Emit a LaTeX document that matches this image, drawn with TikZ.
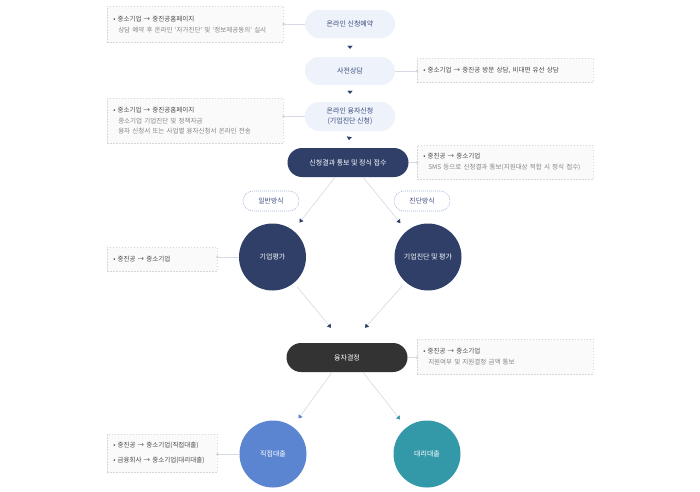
\documentclass[tikz,border=0pt]{standalone}
\usepackage{fontspec}
\setmainfont{Noto Sans CJK KR}
\usetikzlibrary{arrows.meta}

\definecolor{pillbg}{HTML}{EEF2FA}
\definecolor{pilltx}{HTML}{3A4C7E}
\definecolor{navy}{HTML}{2F3F68}
\definecolor{darkg}{HTML}{333333}
\definecolor{blueone}{HTML}{5B84D1}
\definecolor{tealone}{HTML}{3399A8}
\definecolor{linec}{HTML}{D5DAE3}
\definecolor{boxbd}{HTML}{D6D6D6}
\definecolor{boxbg}{HTML}{FAFAFA}
\definecolor{txone}{HTML}{4A4A4A}
\definecolor{txtwo}{HTML}{858585}
\definecolor{methbd}{HTML}{9FB3D9}

\begin{document}
\begin{tikzpicture}[x=1pt,y=-1pt,
  lightpill/.style={fill=pillbg, text=pilltx, rounded corners=14pt, minimum width=90pt, minimum height=28pt, inner sep=0pt, align=center, font=\fontsize{7pt}{10pt}\selectfont},
  darkpill/.style={rounded corners=14.5pt, minimum width=121pt, minimum height=29pt, inner sep=0pt, text=white, font=\fontsize{7pt}{10pt}\selectfont},
  methpill/.style={draw=methbd, line width=0.6pt, dash pattern=on 1pt off 1pt, fill=white, rounded corners=10pt, minimum width=56pt, minimum height=20pt, inner sep=0pt, text=pilltx, font=\fontsize{6.8pt}{8pt}\selectfont},
  circnode/.style={circle, minimum size=67pt, inner sep=0pt, text=white, font=\fontsize{7pt}{8pt}\selectfont},
  infobox/.style={draw=boxbd, line width=0.5pt, dash pattern=on 1.5pt off 1.5pt, fill=boxbg, anchor=north west, align=left, inner xsep=6pt, inner ysep=0pt, text=txtwo, font=\fontsize{6.5pt}{11pt}\selectfont},
  conn/.style={draw=linec, line width=0.6pt},
  tipnavy/.style={-{Triangle[length=3.5pt,width=4.5pt,color=navy]}},
  tipblue/.style={-{Triangle[length=3.5pt,width=4.5pt,color=blueone]}},
  tipteal/.style={-{Triangle[length=3.5pt,width=4.5pt,color=tealone]}},
  hidden/.style={draw=white, line width=0.1pt, -{Triangle[length=3pt,width=5pt,color=navy]}},
  dot/.style={circle, fill=boxbd, minimum size=3pt, inner sep=0pt}
]
\useasboundingbox (0,0) rectangle (700,491);
\fill[white] (0,0) rectangle (700,491);

% main flow
\node[lightpill] (n1) at (350,24) {온라인 신청예약};
\node[lightpill] (n2) at (350,71) {사전상담};
\node[lightpill, minimum height=29pt] (n3) at (350,116.5) {온라인 융자신청\\(기업진단 신청)};
\node[darkpill, fill=navy] (n4) at (348,162.5) {신청결과 통보 및 정식 접수};
\node[methpill] (m1) at (271,201) {일반방식};
\node[methpill] (m2) at (422,201) {진단방식};
\node[circnode, fill=navy] (c1) at (272.5,257) {기업평가};
\node[circnode, fill=navy] (c2) at (428,257) {기업진단 및 평가};
\node[darkpill, fill=darkg] (n5) at (347,357.5) {융자결정};
\node[circnode, fill=blueone] (c3) at (273,454) {직접대출};
\node[circnode, fill=tealone] (c4) at (427,454) {대리대출};

% info boxes
\node[infobox, minimum width=176pt, text width=164pt, minimum height=36pt] (b1) at (107,6)
  {\textcolor{txone}{• 중소기업 → 중진공홈페이지}\\\hspace*{5pt}상담 예약 후 온라인 ‘자가진단’ 및 ‘정보제공동의’ 실시};
\node[infobox, minimum width=176pt, text width=164pt, minimum height=24pt] (b2) at (417,58)
  {\textcolor{txone}{• 중소기업 → 중진공 방문 상담, 비대면 유선 상담}};
\node[infobox, minimum width=176pt, text width=164pt, minimum height=45pt, font=\fontsize{6.5pt}{10.5pt}\selectfont] (b3) at (107,98)
  {\textcolor{txone}{• 중소기업 → 중진공홈페이지}\\\hspace*{5pt}중소기업 기업진단 및 정책자금\\\hspace*{5pt}융자 신청서 또는 사업별 융자신청서 온라인 전송};
\node[infobox, minimum width=176pt, text width=164pt, minimum height=34pt] (b4) at (417,145)
  {\textcolor{txone}{• 중진공 → 중소기업}\\\hspace*{5pt}SMS 등으로 신청결과 통보(지원대상 적합 시 정식 접수)};
\node[infobox, minimum width=110pt, text width=98pt, minimum height=24pt] (b5) at (107,247)
  {\textcolor{txone}{• 중진공 → 중소기업}};
\node[infobox, minimum width=176pt, text width=164pt, minimum height=35pt] (b6) at (417,339)
  {\textcolor{txone}{• 중진공 → 중소기업}\\\hspace*{5pt}지원여부 및 지원결정 금액 통보};
\node[infobox, minimum width=110pt, text width=98pt, minimum height=38pt, font=\fontsize{6.5pt}{15pt}\selectfont, text=txone] (b7) at (107,434)
  {• 중진공 → 중소기업(직접대출)\\• 금융회사 → 중소기업(대리대출)};

% box connectors
\draw[conn] (n1.west) -- (n1.west -| b1.east) node[dot, pos=1]{};
\draw[conn] (n2.east) -- (n2.east -| b2.west) node[dot, pos=1]{};
\draw[conn] (n3.west) -- (n3.west -| b3.east) node[dot, pos=1]{};
\draw[conn] (n4.east) -- (n4.east -| b4.west) node[dot, pos=1]{};
\draw[conn] (c1.west) -- (c1.west -| b5.east) node[dot, pos=1]{};
\draw[conn] (n5.east) -- (n5.east -| b6.west) node[dot, pos=1]{};
\draw[conn] (c3.west) -- (c3.west -| b7.east) node[dot, pos=1]{};

% vertical step arrows
\draw[hidden, shorten <=6pt, shorten >=8pt] (n1.south) -- (n2.north);
\draw[hidden, shorten <=6pt, shorten >=8pt] (n2.south) -- (n3.north);
\draw[hidden, shorten <=5pt, shorten >=8pt] (n3.south) -- (n4.north);

% diagonal connectors
\draw[conn, tipnavy, shorten >=10pt] ([xshift=-13pt]n4.south) -- (c1);
\draw[conn, tipnavy, shorten >=10pt] ([xshift=15pt]n4.south) -- (c2);
\draw[conn, tipnavy, shorten <=5pt] (c1) -- ([xshift=-16pt,yshift=15pt]n5.north);
\draw[conn, tipnavy, shorten <=5pt] (c2) -- ([xshift=18pt,yshift=15pt]n5.north);
\draw[conn, tipblue, shorten >=10pt] ([xshift=-15pt]n5.south) -- (c3);
\draw[conn, tipteal, shorten >=10pt] ([xshift=16pt]n5.south) -- (c4);
\end{tikzpicture}
\end{document}
